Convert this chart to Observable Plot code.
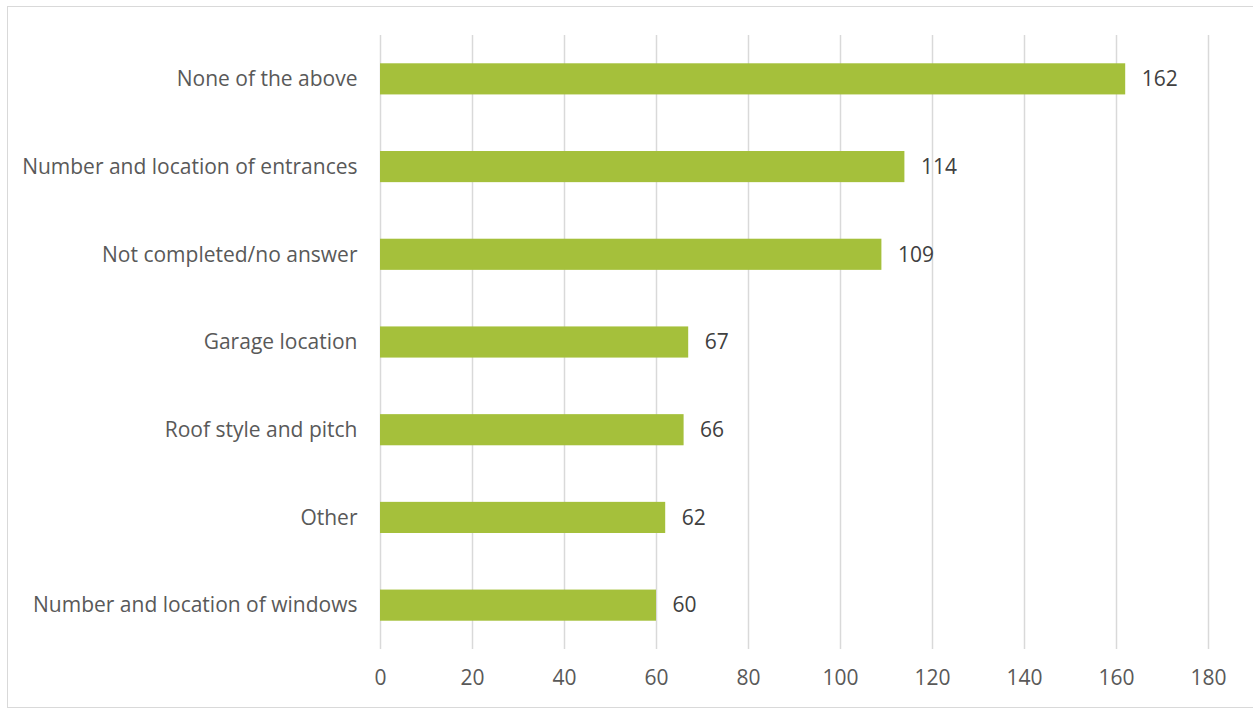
<!DOCTYPE html>
<html>
<head>
<meta charset="utf-8">
<script src="https://cdn.jsdelivr.net/npm/d3@7"></script>
<script src="https://cdn.jsdelivr.net/npm/@observablehq/plot@0.6"></script>
<style>
  html, body { margin: 0; padding: 0; background: #fff; }
  #wrap { position: relative; width: 1253px; height: 711px; overflow: hidden; }
  #border { position: absolute; left: 7px; top: 6px; width: 1260px; height: 702px; border: 1.5px solid #d9d9d9; box-sizing: border-box; }
  #chart { position: absolute; left: 0; top: 0; }
</style>
</head>
<body>
<div id="wrap"><div id="border"></div><div id="chart"></div></div>
<script>
const categories = [
  "None of the above",
  "Number and location of entrances",
  "Not completed/no answer",
  "Garage location",
  "Roof style and pitch",
  "Other",
  "Number and location of windows"
];
const values = [162, 114, 109, 67, 66, 62, 60];
const xTicks = [0, 20, 40, 60, 80, 100, 120, 140, 160, 180];

const data = categories.map((c, i) => ({category: c, value: values[i]}));

const chart = Plot.plot({
  width: 1253,
  height: 711,
  marginLeft: 380,
  marginRight: 45,
  marginTop: 35,
  marginBottom: 62,
  style: {fontFamily: "Open Sans, sans-serif", fontSize: "21px", background: "transparent", overflow: "visible"},
  x: {domain: [0, 180], ticks: xTicks, label: null},
  y: {domain: categories, paddingInner: 0.645, paddingOuter: 0.3225, round: false, label: null},
  marks: [
    Plot.ruleX(xTicks, {stroke: "#d9d9d9", strokeWidth: 1.5}),
    Plot.barX(data, {x: "value", y: "category", fill: "#a5c03b"}),
    Plot.text(data, {x: "value", y: "category", text: d => String(d.value), textAnchor: "start", dx: 16, fill: "#404040", fontSize: 21}),
    Plot.axisX({ticks: xTicks, tickSize: 0, tickPadding: 21, fill: "#595959", fontSize: 21, label: null}),
    Plot.axisY({tickSize: 0, tickPadding: 23, fill: "#595959", fontSize: 21, label: null})
  ]
});
document.getElementById("chart").appendChild(chart);
</script>
</body>
</html>
